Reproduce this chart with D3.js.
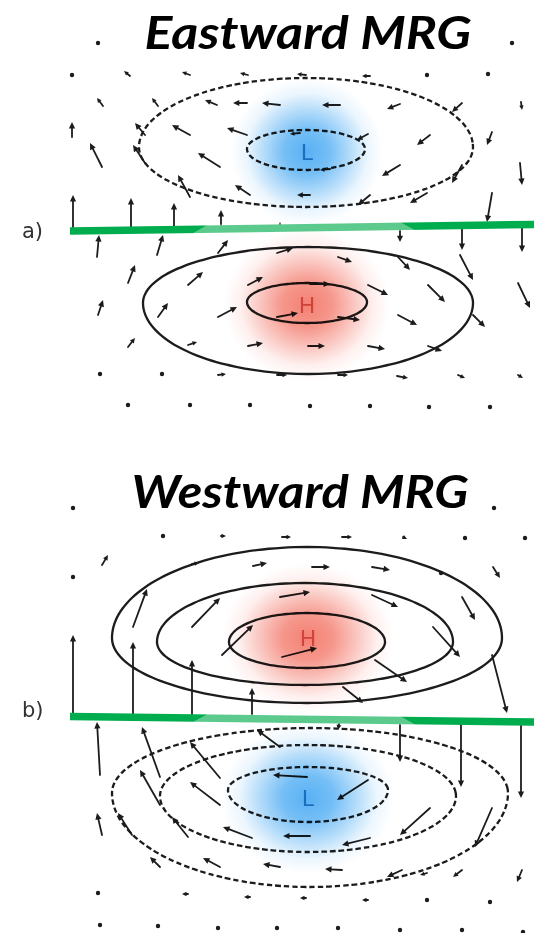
<!DOCTYPE html>
<html><head><meta charset="utf-8">
<script src="https://cdn.jsdelivr.net/npm/d3@7"></script>
<style>html,body{margin:0;padding:0;background:#fff;} svg{display:block}</style>
</head><body>
<svg id="chart" width="534" height="933"></svg>
<script>
// ---------- DATA (lon/lat in degrees on a local grid; u,v wind components in degrees) ----------
const titles = ["Eastward MRG", "Westward MRG"];
const panelLabels = ["a)", "b)"];
const pressureLabels = [["L", "H"], ["H", "L"]];

// [lon, lat, u, v]  (tail position and vector)
const arrowsA = [
  [9.8,18.6,0,0],[51.2,18.6,0,0],
  [7.2,15.4,0,0],[13.0,15.3,-0.6,0.5],[19.0,15.4,-0.8,0.3],[24.8,15.4,-0.8,0.2],[30.6,15.4,-0.9,0.1],[37.0,15.3,-0.8,0],[42.7,15.4,0,0],[48.8,15.5,0,0],
  [10.3,12.3,-0.6,0.8],[15.8,12.3,-0.6,0.8],[21.7,12.4,-1.2,0.5],[24.7,12.6,-1.4,0],[28.0,12.4,-1.8,0.2],[34.0,12.4,-1.8,0],[40.0,12.5,-1.3,-0.5],[46.2,12.6,-1.0,-0.9],[52.1,12.7,0.1,-0.8],
  [7.2,9.2,0,1.5],[14.5,9.4,-1.0,1.2],[19.0,9.4,-1.8,1.0],[24.7,9.4,-2.0,0.7],[36.8,9.5,-1.1,-0.6],[43.0,9.4,-1.3,-1.0],[49.2,9.7,-0.5,-1.3],
  [30.0,9.6,-1.0,-0.1],[33.0,6.0,-1.0,-0.1],
  [10.2,6.2,-1.2,2.4],[14.5,6.6,-1.2,1.8],[22.0,6.2,-2.2,1.4],[40.0,6.4,-1.8,-1.1],[46.2,6.4,-1.0,-1.8],[52.0,6.6,0.2,-2.2],
  [19.0,3.2,-1.2,2.2],[25.0,3.4,-1.5,1.0],[31.0,3.4,-1.3,0],[37.0,3.4,-1.2,-1.0],[42.7,3.6,-1.7,-1.0],[49.2,3.6,-0.5,-2.9],
  [7.3,-0.2,0,3.6],[13.1,-0.1,0,3.2],[17.4,-0.1,0,2.7],[22.1,0,0,1.9],[28.0,0,0,0.7],
  [40.0,0.1,0,-1.4],[46.2,0.2,0,-2.3],[52.2,0.3,0,-2.6],
  [9.7,-2.8,0.2,2.2],[15.7,-2.6,0.6,2.0],[21.8,-2.4,1.0,1.3],[27.7,-2.4,1.6,0.5],[33.8,-2.8,1.4,-0.5],[39.8,-2.8,1.2,-1.3],[46.0,-2.6,1.3,-2.5],
  [12.8,-5.4,0.7,1.8],[18.8,-5.6,1.5,1.3],[24.8,-5.6,1.5,0.8],[31.0,-5.5,2.0,0],[36.8,-5.6,2.0,-1.0],[42.8,-5.6,1.7,-1.7],[51.8,-5.4,1.2,-2.5],
  [9.8,-8.6,0.5,1.5],[15.8,-8.8,1.0,1.4],[21.8,-8.8,1.9,1.0],[27.7,-8.8,2.1,0.4],[33.8,-8.8,2.2,-0.3],[39.8,-8.6,1.9,-1.0],[47.3,-8.6,1.2,-1.2],
  [12.8,-11.8,0.7,0.9],[18.8,-11.6,0.9,0.3],[24.8,-11.7,1.5,0.3],[30.8,-11.7,1.7,0],[36.8,-11.7,1.7,-0.3],[42.8,-11.7,1.4,-0.5],
  [10.0,-14.5,0,0],[16.2,-14.5,0,0],[21.8,-14.6,0.8,0.1],[27.7,-14.6,1.0,0],[33.8,-14.6,1.0,0],[39.7,-14.7,1.1,-0.2],[45.8,-14.6,0.7,-0.3],[51.8,-14.6,0.5,-0.3],
  [12.8,-17.6,0,0],[19.0,-17.6,0,0],[25.0,-17.6,0,0],[31.0,-17.7,0,0],[37.0,-17.7,0,0],[42.9,-17.8,0,0],[49.0,-17.8,0,0]
];
const arrowsB = [
  [7.3,20.8,0,0],[49.4,20.8,0,0],
  [16.3,18.0,0,0],[22.1,18.0,0.5,0],[28.2,17.9,0.9,0],[34.2,17.9,1.0,0],[40.3,17.9,0.4,-0.2],[46.5,17.8,0,0],[52.5,17.8,0,0],
  [7.3,13.9,0,0],[10.2,15.1,0.6,1.0],[19.2,15.2,0.7,0.1],[25.3,15.0,1.4,0.3],[31.2,14.9,1.8,0],[37.2,14.9,1.8,-0.3],[44.1,14.3,0,0],[49.3,14.9,0.7,-1.1],
  [13.3,8.9,1.4,3.8],[19.2,8.9,2.8,2.9],[28.0,11.9,3.0,0.5],[37.2,12.1,2.6,-1.2],[46.2,11.9,1.3,-2.3],
  [7.3,0,0,8.1],[13.3,0,0,7.4],[22.2,6.1,3.1,3.0],[28.2,5.9,3.5,0.9],[43.3,8.9,2.7,-3.0],[49.2,6.1,1.5,-5.8],
  [19.2,0,0,5.6],[25.2,0,0,2.8],[37.5,5.6,3.2,-2.2],[34.3,2.9,2.0,-1.6],
  [10.0,-5.9,-0.3,5.3],[16.0,-6.1,-1.8,5.0],[22.0,-6.2,-3.0,3.6],[28.0,-3.1,-2.3,1.7],[16.0,-8.9,-2.0,3.5],[22.0,-8.9,-3.0,2.3],[30.7,-6.1,-3.4,0.2],
  [10.2,-11.9,-0.5,2.2],[13.2,-11.9,-1.4,2.2],[18.8,-12.1,-1.6,2.0],[25.2,-12.2,-2.9,1.1],[31.0,-12.0,-2.7,0],
  [16.0,-15.1,-1.0,1.0],[22.0,-15.1,-1.7,0.9],[28.0,-15.1,-1.7,0.3],[34.2,-15.4,-1.7,0.1],
  [34.0,-0.3,-0.2,-1.1],[40.0,-0.4,0,-4.2],[46.1,-0.4,0,-6.7],[52.1,-0.5,0,-7.7],
  [36.8,-6.4,-3.1,-2.0],[43.0,-9.2,-3.0,-2.7],[37.0,-12.2,-2.8,-0.7],[49.2,-9.2,-1.7,-3.9],
  [40.2,-15.4,-1.5,-0.7],[42.7,-15.7,-0.7,-0.2],[46.2,-15.4,-0.9,-0.7],[52.2,-15.4,-0.5,-1.2],
  [9.8,-17.7,0,0],[18.8,-17.8,-0.6,0],[25.0,-18.1,-0.6,0],[30.6,-18.2,-0.6,0],[36.8,-18.4,-0.6,0],[42.7,-18.4,0,0],[49.0,-18.6,0,0],
  [10.0,-20.9,0,0],[15.8,-21.0,0,0],[21.8,-21.2,0,0],[27.7,-21.2,0,0],[33.8,-21.2,0,0],[40.0,-21.4,0,0],[46.2,-21.4,0,0],[52.3,-21.6,0,0]
];

// geopotential contours: [lonC, latC, rx, ryNorth, rySouth, sign(+1 high / -1 low)]
const contoursA = [
  [30.6, 8.2, 16.7, 6.9, 6.0, -1],
  [30.6, 8.0, 5.9, 1.9, 2.1, -1],
  [30.8, -7.4, 16.5, 5.6, 7.1, 1],
  [30.7, -7.3, 6.0, 1.9, 2.1, 1]
];
const contoursB = [
  [30.7, 7.8, 19.5, 9.1, 6.5, 1],
  [30.5, 7.4, 14.8, 5.9, 4.3, 1],
  [30.7, 7.4, 7.8, 2.9, 2.6, 1],
  [31.0, -7.7, 19.8, 6.5, 9.4, -1],
  [30.8, -8.0, 14.8, 5.1, 5.6, -1],
  [30.8, -7.4, 8.0, 2.3, 3.2, -1]
];
// anomaly centres: [lon, lat, rx, ry, sign]
const centresA = [[30.7, 7.7, 7.6, 7.4, -1], [30.7, -7.6, 8.3, 7.6, 1]];
const centresB = [[30.8, 7.8, 8.6, 7.4, 1], [30.8, -8.2, 8.6, 7.6, -1]];
// equator line endpoints [lon, lat]
const equatorA = [[7.0, -0.2], [53.4, 0.45]];
const equatorB = [[7.0, -0.05], [53.4, -0.6]];

// ---------- DRAWING ----------
const svg = d3.select("#chart");
const ink = "#1c1c1c";
const x = d3.scaleLinear().domain([0, 53.4]).range([0, 534]);
const panels = [
  {title: titles[0], tlon: 30.8, tlat: 18.0, label: panelLabels[0], llat: -0.2,
   arrows: arrowsA, contours: contoursA, centres: centresA, eq: equatorA, names: pressureLabels[0],
   y: d3.scaleLinear().domain([-20, 23]).range([429, -1])},
  {title: titles[1], tlon: 30.0, tlat: 20.8, label: panelLabels[1], llat: 0.6,
   arrows: arrowsB, contours: contoursB, centres: centresB, eq: equatorB, names: pressureLabels[1],
   y: d3.scaleLinear().domain([-22, 50]).range([936, 216])}
];
const defs = svg.append("defs");
const colors = {"-1": "#3aa3f2", "1": "#f26a5a"};
const textColors = {"-1": "#1467b8", "1": "#cc3d33"};

panels.forEach((p, pi) => {
  const y = p.y;
  const g = svg.append("g");

  // contours
  const line = d3.line().curve(d3.curveCardinalClosed.tension(0.2));
  p.contours.forEach(([cx, cy, rx, ryn, rys, s]) => {
    const pts = d3.range(0, 96).map(i => {
      const t = i / 96 * 2 * Math.PI;
      const st = Math.sin(t);
      return [x(cx + rx * Math.cos(t)), y(cy + (st > 0 ? ryn : rys) * st)];
    });
    g.append("path").attr("d", line(pts)).attr("fill", "none")
      .attr("stroke", ink).attr("stroke-width", 2.3)
      .attr("stroke-dasharray", s > 0 ? null : "5.5,3");
  });

  // arrows
  p.arrows.forEach(([lon, lat, u, v]) => {
    const x1 = x(lon), y1 = y(lat), x2 = x(lon + u), y2 = y(lat + v);
    const len = Math.hypot(x2 - x1, y2 - y1);
    if (len < 0.5) {
      g.append("circle").attr("cx", x1).attr("cy", y1).attr("r", 2.2).attr("fill", ink);
      return;
    }
    const hl = Math.min(6.5, Math.max(4.5, len * 0.45)), hw = hl * 0.48;
    const ux = (x2 - x1) / len, uy = (y2 - y1) / len;
    const bx = x2 - ux * hl, by = y2 - uy * hl;
    g.append("line").attr("x1", x1).attr("y1", y1).attr("x2", bx + ux).attr("y2", by + uy)
      .attr("stroke", ink).attr("stroke-width", 1.8).attr("stroke-linecap", "round");
    g.append("path").attr("d", `M${x2},${y2}L${bx - uy * hw},${by + ux * hw}L${bx + uy * hw},${by - ux * hw}Z`)
      .attr("fill", ink);
  });

  // equator line
  const [e0, e1] = p.eq;
  const ex = d3.scaleLinear().domain([e0[0], e1[0]]).range([e0[1], e1[1]]);
  svg.append("line").attr("x1", x(e0[0])).attr("y1", y(e0[1])).attr("x2", x(e1[0])).attr("y2", y(e1[1]))
    .attr("stroke", "#00ad4e").attr("stroke-width", 7.5);
  // translucent overlay band (from the shaded anomaly layer)
  const a0 = 19.2, a1 = 41.6, hh = 0.45;
  const poly = [[a0, ex(a0) - hh], [a0 + 1.6, ex(a0 + 1.6) + hh], [a1 - 1.6, ex(a1 - 1.6) + hh], [a1, ex(a1) - hh]];
  svg.append("path").attr("d", "M" + poly.map(d => [x(d[0]), y(d[1])].join(",")).join("L") + "Z")
    .attr("fill", "#fff").attr("opacity", 0.36);

  // shaded anomaly centres
  const cg = svg.append("g").style("mix-blend-mode", "multiply");
  p.centres.forEach(([lon, lat, rx, ry, s], ci) => {
    const id = `grad${pi}_${ci}`;
    const gr = defs.append("radialGradient").attr("id", id);
    [[0, 0.85], [0.3, 0.7], [0.55, 0.4], [0.8, 0.1], [1, 0]].forEach(([o, a]) =>
      gr.append("stop").attr("offset", o).attr("stop-color", colors[s]).attr("stop-opacity", a));
    cg.append("ellipse").attr("cx", x(lon)).attr("cy", y(lat))
      .attr("rx", x(rx) - x(0)).attr("ry", y(0) - y(ry)).attr("fill", `url(#${id})`);
  });
  p.centres.forEach(([lon, lat, rx, ry, s], ci) => {
    svg.append("text").attr("x", x(lon)).attr("y", y(lat)).attr("text-anchor", "middle")
      .attr("dominant-baseline", "central").attr("font-family", "DejaVu Sans, sans-serif")
      .attr("font-size", 22).attr("fill", textColors[s]).attr("opacity", 0.9).text(p.names[ci]);
  });

  // title
  svg.append("text").attr("x", x(p.tlon)).attr("y", y(p.tlat)).attr("text-anchor", "middle")
    .attr("font-family", "Lato, 'Open Sans', sans-serif").attr("font-weight", 700).attr("font-style", "italic")
    .attr("font-size", 46).attr("fill", "#000")
    .attr("textLength", pi === 0 ? 327 : 337).attr("lengthAdjust", "spacingAndGlyphs").text(p.title);

  // panel label
  svg.append("text").attr("x", x(2.2)).attr("y", y(p.llat)).attr("dominant-baseline", "central")
    .attr("font-family", "DejaVu Sans, sans-serif").attr("font-size", 21).attr("fill", "#333").text(p.label);
});
</script>
</body></html>
